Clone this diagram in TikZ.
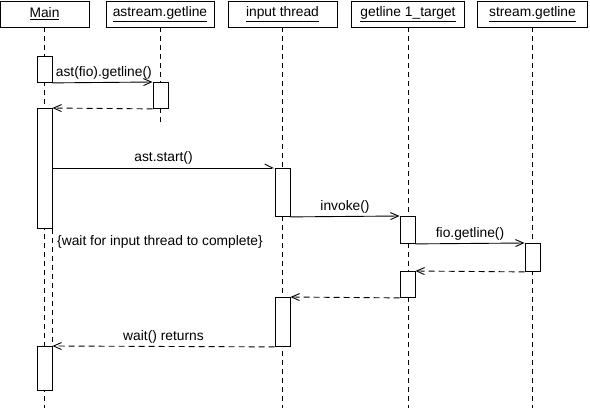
\documentclass[tikz,border=0pt]{standalone}
\usepackage{fontspec}
\setmainfont{Liberation Sans}
\usetikzlibrary{arrows.meta}

\tikzset{
  objbox/.style={draw, line width=0.9pt, minimum height=26pt, inner sep=0pt, font=\fontsize{13.8}{16}\selectfont},
  lifeline/.style={line width=0.9pt, dash pattern=on 5pt off 4pt},
  actbar/.style={draw, fill=white, line width=0.9pt, minimum width=15pt, inner sep=0pt, anchor=north},
  call/.style={line width=0.9pt, -{Straight Barb[length=8pt,width=7pt]}},
  reply/.style={call, dash pattern=on 6pt off 4pt},
  msg/.style={font=\fontsize{13.8}{16}\selectfont, inner sep=3pt},
}

\begin{document}
\begin{tikzpicture}[x=1pt,y=-1pt]
\useasboundingbox (0,0) rectangle (590,410);

% Objects
\foreach \id/\x/\w/\txt in {main/44.5/89/Main, astr/160/108/astream.getline, inthr/282.5/109/input thread, gtarget/408/113/getline 1\_target, strm/532.5/110/stream.getline} {
    \node[objbox, minimum width=\w pt] (\id) at (\x,14) {\underline{\txt}};
}

% Lifelines
\foreach \id/\e in {main/408, astr/125, inthr/408, gtarget/408, strm/408} {
    \draw[lifeline] (\id.south) -- (\id.south |- 0,\e);
}

% Activation bars
\node[actbar, minimum height=26pt] (ma1) at (44.5,56) {};
\node[actbar, minimum height=26pt] (aa) at (160.5,82) {};
\node[actbar, minimum height=120pt] (ma2) at (44.5,108) {};
\node[actbar, minimum height=48pt] (ia1) at (282.5,168) {};
\node[actbar, minimum height=27pt] (ga1) at (407.5,216) {};
\node[actbar, minimum height=28pt] (sa) at (532.5,243) {};
\node[actbar, minimum height=26pt] (ga2) at (407.5,271) {};
\node[actbar, minimum height=49pt] (ia2) at (282.5,297) {};
\node[actbar, minimum height=44pt] (ma3) at (44.5,346) {};

% Main waits
\draw[lifeline] (ma2.south east) -- (ma3.north east);
\node[msg, anchor=west] (waitnote) at (54,242) {\{wait for input thread to complete\}};

% Messages
\draw[call] (ma1.south east) -- node[msg, pos=0, anchor=south west] {ast(fio).getline()} (aa.north west);
\draw[reply] (aa.south west) -- (ma2.north east);
\draw[line width=0.9pt, -{Straight Barb[left,length=8pt,width=8pt]}] (ia1.north west -| ma2.east) -- node[msg, above] {ast.start()} (ia1.north west);
\draw[call] (ia1.south east) -- node[msg, above] {invoke()} (ga1.north west);
\draw[call] (ga1.south east) -- node[msg, above] {fio.getline()} (sa.north west);
\draw[reply] (sa.south west) -- (ga2.north east);
\draw[reply] (ga2.south west) -- (ia2.north east);
\draw[reply] (ia2.south west) -- node[msg, above] {wait() returns} (ma3.north east);

\end{tikzpicture}
\end{document}
